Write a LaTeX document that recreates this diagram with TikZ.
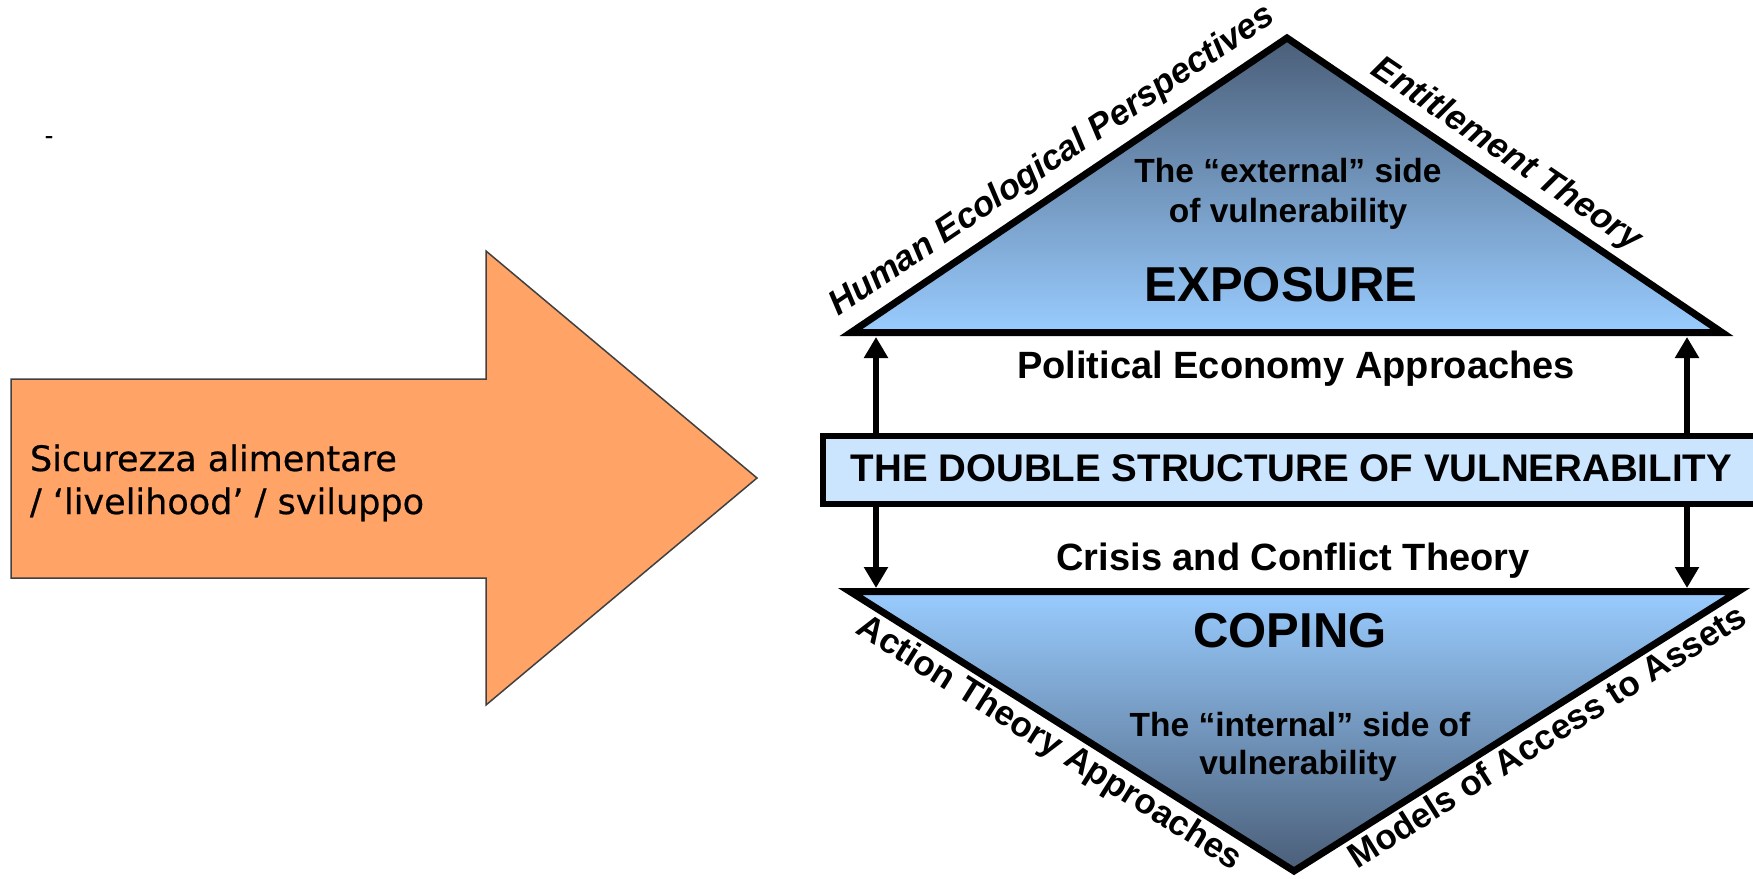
\documentclass[tikz,border=0pt]{standalone}
\usepackage{fontspec}
\setmainfont{Liberation Sans}
\newfontfamily\arrowfont[FakeBold=0.6]{DejaVu Sans}
\usetikzlibrary{arrows.meta}
\definecolor{arroworange}{RGB}{255,163,102}
\definecolor{arrowline}{RGB}{64,64,64}
\definecolor{paleblue}{RGB}{153,204,255}
\definecolor{slateblue}{RGB}{74,94,120}
\definecolor{bandblue}{RGB}{204,229,255}

\begin{document}
\begin{tikzpicture}[y=-1pt, x=1pt, inner sep=0pt, outer sep=0pt,
  triangle/.style={draw=black, line join=miter, line width=7pt},
  link/.style={line width=6pt, -{Triangle[length=21pt,width=23pt]}},
  arrowtext/.style={anchor=base west, font=\arrowfont\fontsize{35}{40}\selectfont},
  midtext/.style={anchor=base, font=\fontsize{38}{44}\selectfont\bfseries},
  sidetext/.style={anchor=base, font=\fontsize{33.5}{40}\selectfont\bfseries},
  bigtext/.style={anchor=base, font=\fontsize{49}{55}\selectfont\bfseries},
  edgetext/.style={sloped, font=\fontsize{35}{40}\selectfont\bfseries},
  slantedge/.style={sloped, font=\fontsize{35}{40}\selectfont\bfseries\itshape}]
  \useasboundingbox (0,0) rectangle (1753,878);

  \path[fill=arroworange, draw=arrowline, line width=1.5pt, line join=miter]
    (11,379) -- (486,379) -- (486,251) -- (757,478) -- (486,705) --
    (486,578) -- (11,578) -- cycle;
  \path (49,140) node[font=\arrowfont\fontsize{24}{28}\selectfont] (dash) {-};
  \path (30,471) node[arrowtext] (food1) {Sicurezza alimentare};
  \path (30,514) node[arrowtext] (food2) {/ ‘livelihood’ / sviluppo};

  \coordinate (expL) at (851,332.5);
  \coordinate (expA) at (1287,38);
  \coordinate (expR) at (1722,332.5);
  \coordinate (copL) at (850,591.5);
  \coordinate (copA) at (1294,871);
  \coordinate (copR) at (1738,591.5);
  \path[triangle, top color=slateblue, bottom color=paleblue]
    (expL) -- (expA) -- (expR) -- cycle;
  \path[triangle, top color=paleblue, bottom color=slateblue]
    (copL) -- (copA) -- (copR) -- cycle;

  \coordinate (upL) at (876,337);
  \coordinate (upR) at (1687,337);
  \coordinate (dnL) at (876,588);
  \coordinate (dnR) at (1687,588);
  \path (1291.5,470) node[draw=black, line width=6pt, fill=bandblue,
    minimum width=937pt, minimum height=68pt, text height=27pt,
    text depth=4pt, font=\fontsize{38.5}{44}\selectfont\bfseries] (band)
    {THE DOUBLE STRUCTURE OF VULNERABILITY};
  \draw[link] (band.north -| upL) -- (upL);
  \draw[link] (band.north -| upR) -- (upR);
  \draw[link] (band.south -| dnL) -- (dnL);
  \draw[link] (band.south -| dnR) -- (dnR);

  \path (1288,182) node[sidetext] (ext1) {The ``external'' side};
  \path (1288,222) node[sidetext] (ext2) {of vulnerability};
  \path (1281,301) node[bigtext] (exposure) {EXPOSURE};
  \path (1296,378) node[midtext] (polec) {Political Economy Approaches};
  \path (1293,570) node[midtext] (crisis) {Crisis and Conflict Theory};
  \path (1290,647) node[bigtext] (coping) {COPING};
  \path (1300,736) node[sidetext] (int1) {The ``internal'' side of};
  \path (1298,774) node[sidetext] (int2) {vulnerability};

  \path (expL) -- node[slantedge, above=13pt] (human)
    {Human Ecological Perspectives} (expA);
  \path (expA) -- node[slantedge, pos=0.47, above=10pt] (entitle)
    {Entitlement Theory} (expR);
  \path (copL) -- node[edgetext, pos=0.476, below=7pt] (action)
    {Action Theory Approaches} (copA);
  \path (copA) -- node[edgetext, pos=0.545, below=7pt] (assets)
    {Models of Access to Assets} (copR);
\end{tikzpicture}
\end{document}
